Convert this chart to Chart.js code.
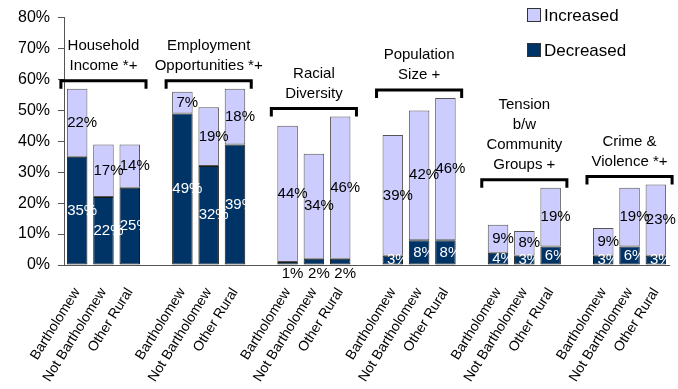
<!DOCTYPE html>
<html>
<head>
<meta charset="utf-8">
<script src="https://cdn.jsdelivr.net/npm/chart.js@4.4.0/dist/chart.umd.min.js"></script>
<style>
  body { margin: 0; background: #fff; }
  #wrap { width: 678px; height: 389px; }
</style>
</head>
<body>
<div id="wrap"><canvas id="impactChart"></canvas></div>
<script>
let places = ['Bartholomew', 'Not Bartholomew', 'Other Rural'];
let topics = [
  ['Household', 'Income *+'],
  ['Employment', 'Opportunities *+'],
  ['Racial', 'Diversity'],
  ['Population', 'Size +'],
  ['Tension', 'b/w', 'Community', 'Groups +'],
  ['Crime &', 'Violence *+']
];
// three values per topic, in the order of places
let decreased = [35, 22, 25, 49, 32, 39, 1, 2, 2, 3, 8, 8, 4, 3, 6, 3, 6, 3];
let increased = [22, 17, 14, 7, 19, 18, 44, 34, 46, 39, 42, 46, 9, 8, 19, 9, 19, 23];
let yTicks = [0, 10, 20, 30, 40, 50, 60, 70, 80];

const FONT = '"Liberation Sans", Arial, sans-serif';
const LIGHT = '#CCCCFF';
const DARK = '#003366';

// one empty slot between topics
let labels = [], decData = [], incData = [];
topics.forEach((t, g) => {
  if (g > 0) { labels.push(''); decData.push(null); incData.push(null); }
  places.forEach((p, i) => {
    labels.push(p);
    decData.push(decreased[g * 3 + i]);
    incData.push(increased[g * 3 + i]);
  });
});

const barLabels = {
  id: 'barLabels',
  afterDatasetsDraw(chart) {
    const ctx = chart.ctx;
    const yAxis = chart.scales.y;
    ctx.save();
    ctx.font = '15px ' + FONT;
    ctx.textAlign = 'center';
    ctx.textBaseline = 'middle';
    chart.data.datasets.forEach((ds, di) => {
      chart.getDatasetMeta(di).data.forEach((bar, i) => {
        const v = ds.data[i];
        if (v == null) return;
        let x = bar.x + 5, y = (bar.y + bar.base) / 2;
        if (ds.label === 'Decreased' && v < 3) {
          // too thin to hold its label, so it goes under the axis
          ctx.fillStyle = '#000';
          y = yAxis.bottom + 9;
        } else {
          ctx.fillStyle = ds.label === 'Decreased' ? '#fff' : '#000';
        }
        ctx.fillText(v + '%', x, y);
      });
    });
    ctx.restore();
  }
};

const groupBrackets = {
  id: 'groupBrackets',
  afterDraw(chart) {
    const ctx = chart.ctx;
    const x = chart.scales.x, y = chart.scales.y;
    const half = x.width / labels.length * 0.39;
    ctx.save();
    topics.forEach((lines, g) => {
      const first = g * 4, last = first + 2;
      const left = x.getPixelForValue(first) - half - 6;
      const right = x.getPixelForValue(last) + half + 6;
      let top = 0;
      for (let i = 0; i < 3; i++) top = Math.max(top, decreased[g * 3 + i] + increased[g * 3 + i]);
      const by = y.getPixelForValue(top) - 8;
      ctx.lineWidth = 3;
      ctx.strokeStyle = '#000';
      ctx.lineJoin = 'miter';
      ctx.beginPath();
      ctx.moveTo(left, by + 8);
      ctx.lineTo(left, by);
      ctx.lineTo(right, by);
      ctx.lineTo(right, by + 8);
      ctx.stroke();

      ctx.fillStyle = '#000';
      ctx.font = '15px ' + FONT;
      ctx.textAlign = 'center';
      ctx.textBaseline = 'middle';
      const cx = (left + right) / 2;
      lines.forEach((line, k) => {
        ctx.fillText(line, cx, by - 15 - (lines.length - 1 - k) * 20);
      });
    });

    // legend, top right
    const items = [['Increased', LIGHT, 15], ['Decreased', DARK, 50]];
    ctx.font = '17px ' + FONT;
    ctx.textAlign = 'left';
    ctx.lineWidth = 1;
    items.forEach(([name, color, ly]) => {
      ctx.fillStyle = color;
      ctx.fillRect(527.5, ly - 6.5, 13, 13);
      ctx.strokeStyle = '#333';
      ctx.strokeRect(527.5, ly - 6.5, 13, 13);
      ctx.fillStyle = '#000';
      ctx.fillText(name, 544, ly + 1);
    });
    ctx.restore();
  }
};

Chart.defaults.font.family = FONT;
Chart.defaults.color = '#000';

new Chart(document.getElementById('impactChart'), {
  type: 'bar',
  data: {
    labels: labels,
    datasets: [
      { label: 'Decreased', data: decData, backgroundColor: DARK, borderColor: '#1a1a1a', borderWidth: 1, borderSkipped: false },
      { label: 'Increased', data: incData, backgroundColor: LIGHT, borderColor: '#555', borderWidth: 1, borderSkipped: false }
    ]
  },
  options: {
    responsive: true,
    maintainAspectRatio: false,
    animation: false,
    layout: { padding: { top: 13, right: 9, left: 0, bottom: 0 } },
    datasets: { bar: { barPercentage: 0.78, categoryPercentage: 1 } },
    plugins: { legend: { display: false }, tooltip: { enabled: false } },
    scales: {
      x: {
        stacked: true,
        grid: { display: false, drawTicks: false },
        border: { display: true, color: '#555', width: 1 },
        ticks: { autoSkip: false, minRotation: 58, maxRotation: 58, padding: 20, font: { size: 14 }, color: '#000' },
        afterFit(s) {
          s.height = 124;
          s.paddingLeft = 0;
          s.paddingRight = 0;
        }
      },
      y: {
        stacked: true,
        min: 0,
        max: 80,
        afterBuildTicks(s) { s.ticks = yTicks.map(v => ({ value: v })); },
        ticks: { callback: v => v + '%', font: { size: 16 }, padding: 8, color: '#000' },
        grid: { drawOnChartArea: false, drawTicks: true, tickLength: 6, color: '#555' },
        border: { display: true, color: '#555', width: 1 },
        afterFit(s) { s.width = 64; }
      }
    }
  },
  plugins: [barLabels, groupBrackets]
});
</script>
</body>
</html>
